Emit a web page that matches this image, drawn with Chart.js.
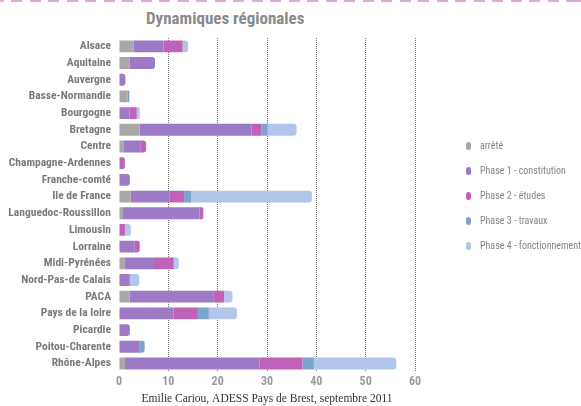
<!DOCTYPE html>
<html>
<head>
<meta charset="utf-8">
<script src="https://cdn.jsdelivr.net/npm/chart.js@4/dist/chart.umd.min.js"></script>
<style>
  body { margin: 0; background: #fff; }
  #wrap { position: relative; width: 581px; height: 406px; overflow: hidden; }
  #topline {
    position: absolute; left: 0; top: 0; width: 581px; height: 2px;
    background: repeating-linear-gradient(to right, #dfa8dc 0 11px, transparent 11px 18.5px);
    background-position: -7px 0;
  }
  #title {
    position: absolute; left: 146px; top: 8px;
    font-family: Roboto, "DejaVu Sans Condensed", sans-serif;
    font-weight: bold; font-size: 17px; font-stretch: condensed;
    line-height: 21px; color: #8a8a8a; white-space: nowrap;
  }
  #legend {
    position: absolute; left: 463px; top: 139px; margin: 0; padding: 0; list-style: none;
    font-family: Roboto, "DejaVu Sans Condensed", sans-serif;
    font-size: 10px; font-stretch: condensed; color: #858585;
  }
  #legend li { height: 25px; line-height: 14px; white-space: nowrap; }
  #legend span.box {
    display: inline-block; width: 5px; height: 8px; border-radius: 2.5px;
    margin: 0 9px 0 3px; vertical-align: -1px;
  }
  canvas { position: absolute; left: 0; top: 0; }
</style>
</head>
<body>
<div id="wrap">
  <div id="topline"></div>
  <div id="title">Dynamiques régionales</div>
  <canvas id="chart" width="581" height="406"></canvas>
  <ul id="legend"></ul>
</div>
<script>
const regions = [
  'Alsace', 'Aquitaine', 'Auvergne', 'Basse-Normandie', 'Bourgogne', 'Bretagne', 'Centre',
  'Champagne-Ardennes', 'Franche-comté', 'Ile de France', 'Languedoc-Roussillon', 'Limousin',
  'Lorraine', 'Midi-Pyrénées', 'Nord-Pas-de Calais', 'PACA', 'Pays de la loire', 'Picardie',
  'Poitou-Charente', 'Rhône-Alpes',
];
const arrete = [3, 2.2, 0, 1.7, 0, 4.2, 1, 0, 0, 2.4, 0.8, 0, 0, 1.2, 0, 2.2, 0, 0, 0, 1.2];
const phase1 = [6, 5.1, 1.3, 0, 2.1, 22.7, 3.3, 0, 2.2, 7.9, 15.5, 0, 3.2, 5.7, 2.2, 16.9, 11.1, 2.2, 4.2, 27.3];
const phase2 = [3.9, 0, 0, 0, 1.5, 2, 1.2, 1.2, 0, 2.9, 0.8, 1.2, 1, 4.2, 0, 2.2, 4.9, 0, 0, 8.7];
const phase3 = [0, 0, 0, 0.4, 0, 1.2, 0, 0, 0, 1.4, 0, 0, 0, 0, 0, 0, 2.2, 0, 1, 2.3];
const phase4 = [1.1, 0, 0, 0, 0.6, 5.9, 0, 0, 0, 24.5, 0, 1.2, 0, 1, 1.9, 1.7, 5.7, 0, 0, 16.7];
const xTicks = [0, 10, 20, 30, 40, 50, 60];

const seriesNames = ['arrêté', 'Phase 1 - constitution', 'Phase 2 - études', 'Phase 3 - travaux', 'Phase 4 - fonctionnement'];
const seriesData = [arrete, phase1, phase2, phase3, phase4];
const seriesColors = ['#a9a7a7', '#9d7ac5', '#c063b8', '#78a5c9', '#b3c6e9'];

// canvas font shorthand accepts the stretch keyword after the weight
const narrow = 'Roboto, "DejaVu Sans Condensed", sans-serif';

const chart = new Chart(document.getElementById('chart'), {
  type: 'bar',
  data: {
    labels: regions,
    datasets: seriesNames.map((name, i) => ({
      label: name,
      data: seriesData[i],
      backgroundColor: seriesColors[i],
      borderWidth: 0,
      borderRadius: 3,
      barPercentage: 0.71,
      categoryPercentage: 1,
    })),
  },
  options: {
    responsive: false,
    animation: false,
    indexAxis: 'y',
    layout: { padding: { left: 8, right: 166, top: 38, bottom: 0 } },
    plugins: {
      legend: { display: false },
      title: { display: false },
      tooltip: { enabled: false },
    },
    scales: {
      x: {
        stacked: true,
        min: 0,
        max: 60,
        afterBuildTicks: (scale) => { scale.ticks = xTicks.map((v) => ({ value: v })); },
        grid: {
          color: (ctx) => (ctx.tick && ctx.tick.value === 0 ? 'rgba(0,0,0,0)' : '#707070'),
          drawTicks: false,
          lineWidth: 1,
        },
        border: { display: false, dash: [1, 1] },
        ticks: {
          padding: 3,
          color: '#9a9a9a',
          font: { family: narrow, size: 12, weight: 'bold condensed' },
        },
        title: {
          display: true,
          text: 'Emilie Cariou, ADESS Pays de Brest, septembre 2011',
          color: '#333',
          font: { family: '"Liberation Serif", "DejaVu Serif", serif', size: 11.5 },
          padding: { top: 0, bottom: 0 },
        },
      },
      y: {
        stacked: true,
        afterFit: (scale) => { scale.width = 111; },
        grid: { display: false, drawTicks: false },
        border: { display: false },
        ticks: {
          autoSkip: false,
          padding: 8,
          color: '#7a7a7a',
          font: { family: narrow, size: 11.5, weight: 'bold condensed' },
        },
      },
    },
  },
});

// legend built from the chart's datasets
const legendEl = document.getElementById('legend');
chart.data.datasets.forEach((ds) => {
  const li = document.createElement('li');
  const box = document.createElement('span');
  box.className = 'box';
  box.style.background = ds.backgroundColor;
  li.appendChild(box);
  li.appendChild(document.createTextNode(ds.label));
  legendEl.appendChild(li);
});
</script>
</body>
</html>
